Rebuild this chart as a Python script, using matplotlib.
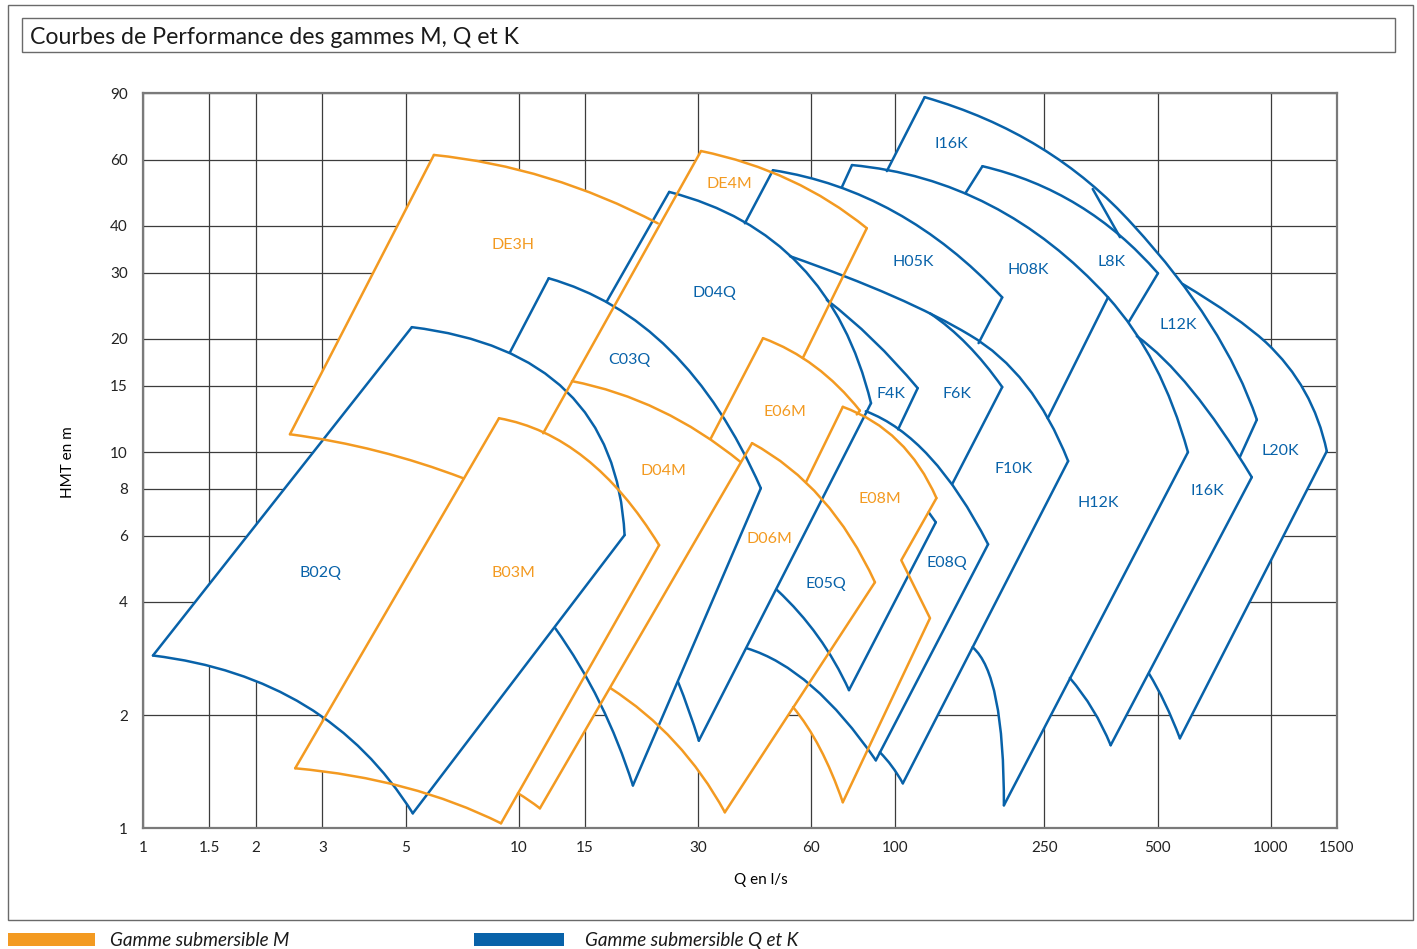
import numpy as np
import matplotlib
matplotlib.use('Agg')
import matplotlib.pyplot as plt
from matplotlib.path import Path
from matplotlib.patches import PathPatch, Rectangle

plt.rcParams['font.family'] = ['Lato', 'DejaVu Sans']

BLUE = '#0862a9'
ORANGE = '#f39a21'

q_ticks = [1, 1.5, 2, 3, 5, 10, 15, 30, 60, 100, 250, 500, 1000, 1500]
h_ticks = [1, 2, 4, 6, 8, 10, 15, 20, 30, 40, 60, 90]

# outline pieces as (Q l/s, HMT m)
# odd number of points (3, 5) -> smooth curve through them, even -> straight segments

# --- gamme Q et K (blue)
b02q_left = [(1.063, 2.88), (5.19, 21.5)]
b02q_top = [(5.19, 21.5), (13.4, 14.5), (19.1, 6.02)]
b02q_right = [(19.1, 6.02), (5.22, 1.096)]
b02q_bottom = [(1.063, 2.88), (2.70, 2.12), (5.22, 1.096)]

c03q_left = [(12.0, 29.0), (9.47, 18.45)]
c03q_top = [(12.0, 29.0), (25.2, 18.7), (44.0, 8.02)]
c03q_right = [(44.0, 8.02), (20.1, 1.30)]
c03q_bottom = [(12.5, 3.40), (16.4, 2.16), (20.1, 1.30)]

d04q_left = [(25.1, 49.2), (17.1, 25.1)]
d04q_top = [(25.1, 49.2), (55.9, 31.4), (86.4, 13.5)]
d04q_right = [(86.4, 13.5), (30.1, 1.71)]
d04q_bottom = [(26.5, 2.45), (28.3, 2.06), (30.1, 1.71)]

h05k_left = [(47.4, 56.2), (39.9, 40.6)]
h05k_top = [(47.4, 56.2), (100, 43.5), (193, 25.8)]
h05k_right = [(193, 25.8), (167, 19.5)]

h08k_left = [(76.9, 58.0), (72.3, 50.7)]
h08k_top = [(76.9, 58.0), (179, 45.4), (369, 25.8)]
h08k_right = [(369, 25.8), (255, 12.3)]

i16k_left = [(120, 87.9), (95.2, 55.9)]
i16k_top = [(120, 87.9), (243, 64.7), (430, 40.2), (688, 22.0), (918, 12.2)]
i16k_step = [(336, 50.1), (397, 37.3)]

l8k_left = [(171, 57.6), (154, 48.8)]
l8k_top = [(171, 57.6), (307, 45.4), (501, 29.9)]
l8k_right = [(501, 29.9), (419, 22.2)]

l12k_right = [(918, 12.2), (827, 9.70)]

l20k_top = [(583, 28.0), (787, 23.1), (970, 19.6), (1231, 14.5), (1409, 10.06)]
l20k_right = [(1409, 10.06), (573, 1.735)]
l20k_bottom = [(474, 2.58), (523, 2.15), (573, 1.735)]

h12k_top = [(369, 25.8), (491, 17.0), (602, 10.0)]
h12k_right = [(602, 10.0), (195, 1.151)]
h12k_bottom = [(161, 3.03), (186, 2.19), (195, 1.151)]

i16kl_top = [(440, 20.35), (617, 14.6), (890, 8.58)]
i16kl_right = [(890, 8.58), (375, 1.663)]
i16kl_bottom = [(292, 2.51), (336, 2.07), (375, 1.663)]

f4k_top = [(65.9, 25.4), (87.4, 19.9), (115, 14.8)]
f4k_right = [(115, 14.8), (102, 11.5)]

f6k_top = [(124, 23.4), (156, 19.3), (193, 14.9)]
f6k_right = [(193, 14.9), (142, 8.22)]

f10k_top = [(52.6, 33.2), (98.8, 26.0), (158, 20.5), (223, 15.1), (289, 9.47)]
f10k_right = [(289, 9.47), (105, 1.317)]
f10k_bottom = [(91.2, 1.593), (98.2, 1.462), (105, 1.317)]

e08q_top = [(83.7, 12.85), (124, 9.70), (177, 5.69)]
e08q_right = [(177, 5.69), (89.0, 1.516)]
e08q_bottom = [(40.4, 3.01), (60.2, 2.385), (89.0, 1.516)]

e05q_stub = [(123, 6.92), (128.5, 6.51)]
e05q_right = [(128.5, 6.51), (75.5, 2.33)]
e05q_bottom = [(48.6, 4.30), (62.4, 3.24), (75.5, 2.33)]

# --- gamme M (orange)
de3h_left = [(5.94, 61.7), (2.46, 11.16)]
de3h_top = [(5.94, 61.7), (11.94, 53.6), (23.4, 40.6)]
de3h_bottom = [(2.46, 11.16), (4.22, 10.06), (7.10, 8.53)]

de4m_left = [(30.5, 63.2), (11.6, 11.23)]
de4m_top = [(30.5, 63.2), (52.6, 52.9), (84.2, 39.4)]
de4m_right = [(84.2, 39.4), (56.9, 17.8)]

e06m_left = [(44.6, 20.1), (32.4, 10.89)]
e06m_top = [(44.6, 20.1), (61.3, 16.9), (80.7, 12.9)]
e06m_stub = [(80.7, 12.9), (79.2, 12.6)]

e08m_left = [(72.7, 13.2), (58.0, 8.32)]
e08m_top = [(72.7, 13.2), (102, 10.7), (129, 7.55)]
e08m_right = [(129, 7.55), (104, 5.16), (124, 3.62), (72.7, 1.173)]
e08m_bottom = [(53.6, 2.10), (63.2, 1.632), (72.7, 1.173)]

d06m_left = [(41.7, 10.57), (11.37, 1.130)]
d06m_top = [(41.7, 10.57), (64.0, 7.50), (88.5, 4.51)]
d06m_right = [(88.5, 4.51), (35.3, 1.103)]
d06m_bottom = [(17.5, 2.36), (26.0, 1.694), (35.3, 1.103)]

d04m_top = [(13.84, 15.45), (23.7, 12.93), (38.9, 9.41)]
d04m_bottom = [(9.94, 1.239), (10.63, 1.187), (11.37, 1.130)]

b03m_left = [(2.54, 1.444), (8.85, 12.31)]
b03m_top = [(8.85, 12.31), (15.0, 9.64), (23.6, 5.66)]
b03m_right = [(23.6, 5.66), (8.96, 1.031)]
b03m_bottom = [(2.54, 1.444), (4.98, 1.285), (8.96, 1.031)]

blue_strokes = [b02q_left, b02q_top, b02q_right, b02q_bottom,
                c03q_left, c03q_top, c03q_right, c03q_bottom,
                d04q_left, d04q_top, d04q_right, d04q_bottom,
                h05k_left, h05k_top, h05k_right,
                h08k_left, h08k_top, h08k_right,
                i16k_left, i16k_top, i16k_step,
                l8k_left, l8k_top, l8k_right, l12k_right,
                l20k_top, l20k_right, l20k_bottom,
                h12k_top, h12k_right, h12k_bottom,
                i16kl_top, i16kl_right, i16kl_bottom,
                f4k_top, f4k_right, f6k_top, f6k_right,
                f10k_top, f10k_right, f10k_bottom,
                e08q_top, e08q_right, e08q_bottom,
                e05q_stub, e05q_right, e05q_bottom]
orange_strokes = [de3h_left, de3h_top, de3h_bottom,
                  de4m_left, de4m_top, de4m_right,
                  e06m_left, e06m_top, e06m_stub,
                  e08m_left, e08m_top, e08m_right, e08m_bottom,
                  d06m_left, d06m_top, d06m_right, d06m_bottom,
                  d04m_top, d04m_bottom,
                  b03m_left, b03m_top, b03m_right, b03m_bottom]

# white areas hiding the grid, chained from the outline pieces
r = lambda s: s[::-1]
areas = [
    [b02q_left, b02q_top, b02q_right, r(b02q_bottom)],
    [r(c03q_left), c03q_top, c03q_right, r(c03q_bottom)],
    [r(d04q_left), d04q_top, d04q_right, r(d04q_bottom)],
    [f10k_top, r(e08q_top), r(d04q_top)],
    [e08q_top, e08q_right, r(e08q_bottom)],
    [e05q_stub, e05q_right, r(e05q_bottom)],
    [f6k_right, e08q_right, f10k_bottom, r(f10k_right), r(f10k_top)],
    [r(h05k_left), h05k_top, h05k_right, [f10k_top[1]], [f10k_top[0]]],
    [r(h08k_left), h08k_top, h08k_right, r(h05k_right), r(h05k_top)],
    [r(i16k_left), i16k_top],
    [r(l8k_left), l8k_top, l8k_right],
    [l12k_right, r(i16kl_top), r(l8k_right), [i16k_top[3]]],
    [l20k_top, l20k_right, r(l20k_bottom), r(i16kl_right), r(l12k_right)],
    [h12k_top, h12k_right, r(h12k_bottom), [h08k_right[1]]],
    [i16kl_top, i16kl_right, r(i16kl_bottom)],
    [de3h_bottom, [b03m_left[1]], r(de4m_left), r(de3h_top), de3h_left],
    [de4m_top, de4m_right, e06m_left, [d04m_top[0]]],
    [e06m_top, e06m_stub, [e08m_top[0]], [e08m_left[1]], [d06m_top[0]], r(e06m_left)],
    [e08m_top, e08m_right, r(e08m_bottom), [d06m_top[2]], r(e08m_left)],
    [d06m_top, d06m_right, r(d06m_bottom)],
    [d04m_top, [d06m_left[1]], r(d04m_bottom), [b03m_top[2]], [de4m_left[1]]],
    [b03m_left, b03m_top, b03m_right, r(b03m_bottom)],
]

blue_names = ['B02Q', 'C03Q', 'D04Q', 'H05K', 'I16K', 'H08K', 'L8K', 'L12K',
              'F4K', 'F6K', 'F10K', 'H12K', 'I16K', 'L20K', 'E08Q', 'E05Q']
blue_q = [2.97, 19.7, 33.2, 112, 141, 227, 378, 569, 97.6, 146, 207, 347, 680, 1063, 137.5, 65.5]
blue_h = [4.77, 17.6, 26.5, 32.0, 65.9, 30.5, 32.0, 21.8, 14.3, 14.3, 9.01, 7.32, 7.88, 10.1, 5.07, 4.46]
orange_names = ['DE3H', 'DE4M', 'E06M', 'D04M', 'E08M', 'D06M', 'B03M']
orange_q = [9.64, 36.2, 51.0, 24.2, 91.2, 46.5, 9.64]
orange_h = [35.5, 51.6, 12.8, 8.90, 7.50, 5.87, 4.77]


def make_path(items, closed=False):
    verts, codes = [], []
    for pts in items:
        lp = np.log10(np.asarray(pts, float))
        verts.append(lp[0])
        codes.append(Path.LINETO if codes else Path.MOVETO)
        if len(lp) >= 3 and len(lp) % 2 == 1:
            for i in range(1, len(lp) - 1, 2):
                ctrl = 2 * lp[i] - (lp[i - 1] + lp[i + 1]) / 2
                verts += [ctrl, lp[i + 1]]
                codes += [Path.CURVE3, Path.CURVE3]
        else:
            for p in lp[1:]:
                verts.append(p)
                codes.append(Path.LINETO)
    if closed:
        verts.append(verts[0])
        codes.append(Path.CLOSEPOLY)
    return Path(10 ** np.array(verts), codes)


fig = plt.figure(figsize=(14.17, 9.49), dpi=100)
ax = fig.add_axes([0.10092, 0.12719, 0.84263, 0.77450])
ax.set_xscale('log')
ax.set_yscale('log')

for a in areas:
    ax.add_patch(PathPatch(make_path(a, closed=True), facecolor='white',
                           edgecolor='none', zorder=1))
for strokes, col in [(blue_strokes, BLUE), (orange_strokes, ORANGE)]:
    for s in strokes:
        ax.add_patch(PathPatch(make_path([s]), fill=False, edgecolor=col, lw=1.8,
                               capstyle='round', joinstyle='round', zorder=3))

for n, q, h in zip(blue_names, blue_q, blue_h):
    ax.text(q, h, n, color=BLUE, fontsize=11.5, ha='center', va='center', zorder=4)
for n, q, h in zip(orange_names, orange_q, orange_h):
    ax.text(q, h, n, color=ORANGE, fontsize=11.5, ha='center', va='center', zorder=4)

ax.set_xlim(1, 1500)
ax.set_ylim(1, 90)
ax.set_xticks(q_ticks, [f'{v:g}' for v in q_ticks])
ax.set_yticks(h_ticks, [f'{v:g}' for v in h_ticks])
ax.minorticks_off()
ax.tick_params(length=0, labelsize=11, colors='#222222')
ax.tick_params(axis='x', pad=9)
ax.tick_params(axis='y', pad=11)
ax.set_axisbelow(True)
ax.grid(True, color='#3c3c3c', lw=0.9)
for sp in ax.spines.values():
    sp.set_color('#7a7a7a')
    sp.set_linewidth(1.6)

fig.text(761 / 1417, 1 - 880 / 949, 'Q en l/s', ha='center', va='center', fontsize=11)
fig.text(68 / 1417, 1 - 462 / 949, 'HMT en m', ha='center', va='center', fontsize=11,
         rotation=90)

# frames, title and legend
fig.add_artist(Rectangle((0.005646, 0.030558), 0.99153, 0.96417, transform=fig.transFigure,
                         fill=False, edgecolor='#6a6a6a', lw=1))
fig.add_artist(Rectangle((0.01553, 0.94521), 0.96895, 0.03583, transform=fig.transFigure,
                         fill=False, edgecolor='#6a6a6a', lw=1))
fig.text(0.02117, 0.9605, 'Courbes de Performance des gammes M, Q et K', ha='left',
         va='center', fontsize=16.7, color='#1a1a1a')

fig.add_artist(Rectangle((0.005646, 0.00316), 0.0614, 0.0137, transform=fig.transFigure,
                         facecolor=ORANGE, edgecolor='none'))
fig.add_artist(Rectangle((0.33451, 0.00316), 0.06351, 0.0137, transform=fig.transFigure,
                         facecolor=BLUE, edgecolor='none'))
fig.text(0.07763, 0.0085, 'Gamme submersible M', ha='left', va='center', fontsize=13.6,
         style='italic', color='#1a1a1a')
fig.text(0.41284, 0.0085, 'Gamme submersible Q et K', ha='left', va='center', fontsize=13.6,
         style='italic', color='#1a1a1a')

fig.savefig('out.png', dpi=100)
